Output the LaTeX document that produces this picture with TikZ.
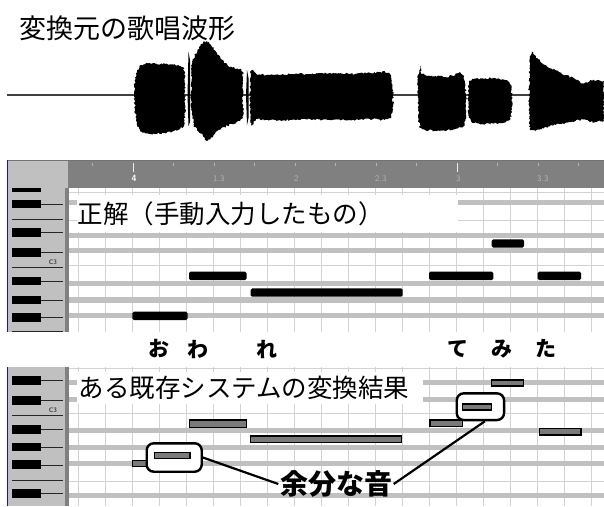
\documentclass[tikz,border=0pt]{standalone}
\usepackage{fontspec}
\newfontfamily\jp{Noto Sans CJK JP}
\usetikzlibrary{decorations.pathmorphing}
\definecolor{bandc}{HTML}{C0C0C0}
\definecolor{gridc}{HTML}{D2D2D2}
\definecolor{rulerc}{HTML}{808080}
\definecolor{kbdc}{HTML}{C0C0C0}
\definecolor{noteg}{HTML}{7A7A7A}
\definecolor{bluel}{HTML}{1010E0}
\definecolor{rlab}{HTML}{B4B4B4}
\begin{document}
\begin{tikzpicture}[x=1pt,y=-1pt,
  bandrow/.style={fill=bandc},
  vgrid/.style={draw=gridc, line width=0.9pt},
  hgrid/.style={draw=gridc, line width=0.9pt},
  blackkey/.style={fill=black},
  keyline/.style={draw=black!85, line width=0.6pt},
  notetop/.style={fill=black, rounded corners=1.5pt},
  notebot/.style={fill=noteg, draw=black, line width=1.1pt},
  callout/.style={draw=black, line width=2.4pt, rounded corners=7pt, fill=white, inner sep=0pt},
  leader/.style={draw=black, line width=2.2pt},
  wave/.style={fill=black, decorate, decoration={random steps, segment length=1.4pt, amplitude=1pt}},
  titletext/.style={font={\jp\fontsize{27pt}{29pt}\selectfont}, inner sep=0pt},
  boxtext/.style={font={\jp\fontsize{25.5pt}{27pt}\selectfont}, inner sep=0pt},
  syll/.style={font={\jp\bfseries\fontsize{21pt}{23pt}\selectfont}, inner sep=0pt},
  extratext/.style={font={\jp\bfseries\fontsize{28pt}{30pt}\selectfont}, inner sep=1.5pt},
  rlabel/.style={font={\sffamily\fontsize{8.5pt}{9pt}\selectfont}, text=rlab, inner sep=0pt},
  rlabelb/.style={font={\sffamily\bfseries\fontsize{9pt}{10pt}\selectfont}, text=white, inner sep=0pt},
  ctext/.style={font={\sffamily\bfseries\fontsize{6.5pt}{7pt}\selectfont}, text=black!75, inner sep=0pt},
  whitebox/.style={fill=white, inner sep=0pt, anchor=north west}
]
\useasboundingbox (0,0) rectangle (604,506);

% ---------- title and waveform ----------
\node[titletext, anchor=west] (title) at (19,28) {変換元の歌唱波形};
\draw[line width=1.1pt, black!75] (7,95) -- (604,95);
\fill[wave] (134,95) -- (135,80) -- (137,70) -- (141,65) -- (150,63) -- (165,64) -- (178,65) -- (183,67) -- (185,75) -- (185,115) -- (184,126) -- (178,130) -- (165,133) -- (150,134) -- (141,132) -- (137,125) -- (135,110) -- cycle;
\fill[black] (187.5,95) -- (188.5,52) -- (190,60) -- (190,122) -- (188.5,126) -- cycle;
\fill[wave] (191,95) -- (192,62) -- (195,55) -- (199,48) -- (203,42) -- (207,41) -- (211,45) -- (216,52) -- (222,60) -- (228,66) -- (234,68) -- (240,69) -- (243,72) -- (243,118) -- (240,121) -- (232,124) -- (224,127) -- (217,131) -- (211,138) -- (207,141) -- (203,136) -- (198,131) -- (194,126) -- (192,115) -- cycle;
\fill[black] (246,95) -- (247,70) -- (248.5,78) -- (248.5,118) -- (247,125) -- cycle;
\fill[wave] (250,95) -- (250,72) -- (253,70) -- (256,74) -- (270,75) -- (290,74) -- (310,74) -- (330,73) -- (350,74) -- (370,73) -- (385,72) -- (390,74) -- (392,80) -- (393,95) -- (393,110) -- (391,118) -- (385,120) -- (370,119) -- (350,120) -- (330,120) -- (310,119) -- (290,120) -- (270,120) -- (256,119) -- (252,126) -- (250,120) -- cycle;
\fill[wave] (418,95) -- (418,75) -- (420,66) -- (422,74) -- (430,76) -- (445,77) -- (455,75) -- (460,72) -- (464,76) -- (466,95) -- (466,115) -- (464,126) -- (455,129) -- (440,131) -- (425,130) -- (420,128) -- (418,115) -- cycle;
\fill[wave] (468,95) -- (469,82) -- (472,79) -- (480,79) -- (495,78) -- (505,80) -- (510,83) -- (512,95) -- (512,112) -- (510,120) -- (500,123) -- (485,124) -- (472,123) -- (469,118) -- cycle;
\fill[wave] (529,95) -- (530,58) -- (533,52) -- (537,58) -- (545,65) -- (555,70) -- (565,75) -- (575,79) -- (580,82) -- (584,84) -- (590,80) -- (604,81) -- (604,121) -- (590,122) -- (584,119) -- (575,121) -- (560,124) -- (545,127) -- (535,131) -- (530,130) -- cycle;

% ---------- top piano roll ----------
\fill[kbdc] (7,160) rectangle (68,188);
\fill[rulerc] (68,160) rectangle (604,188);
\draw[black!55, line width=0.8pt] (7,160.3) -- (604,160.3);
\foreach \x in {92.5,173.5,214,254.5,295,335.5,376,416.5,497.5,538,578.5}
  \draw[rlab, line width=0.7pt] (\x,162.5) -- (\x,166);
\foreach \x in {133,457}
  \draw[white!85!gray, line width=0.8pt] (\x,162.5) -- (\x,172);
\node[rlabelb, anchor=west] (r4) at (131.5,178.5) {4};
\node[rlabel, anchor=west] (r13) at (213,178.5) {1.3};
\node[rlabel, anchor=west] (r2) at (294,178.5) {2};
\node[rlabel, anchor=west] (r23) at (375,178.5) {2.3};
\node[rlabel, anchor=west] (r3) at (456,178.5) {3};
\node[rlabel, anchor=west] (r33) at (537,178.5) {3.3};

\fill[kbdc] (7,188) rectangle (65,332);
\fill[rulerc] (65,188) rectangle (69,332);
\foreach \i in {0,...,19}
  \draw[vgrid] (78.3+27*\i,188) -- (78.3+27*\i,332);
\foreach \y in {192.3,220.7,265}
  \draw[hgrid] (69,\y) -- (604,\y);
\foreach \y in {202.5,235.3,250.3,283.3,300,315.8}
  \fill[bandrow] (69,\y-2.6) rectangle (604,\y+2.6);
\node[whitebox, minimum width=381pt, minimum height=37pt] (boxtop) at (77,195) {};
\node[boxtext, anchor=west] (ttop) at (77.5,214) {正解（手動入力したもの）};

\fill[notetop] (132.3,311.7) rectangle (187.7,320);
\fill[notetop] (189,271.7) rectangle (246.7,280);
\fill[notetop] (250.7,288.3) rectangle (402.7,296.7);
\fill[notetop] (429,271.7) rectangle (493.3,280);
\fill[notetop] (491.7,239.3) rectangle (524,247.7);
\fill[notetop] (537.7,271.7) rectangle (581,280);

\foreach \a/\b in {200/208.3,227.7/236.7,248.3/256.7,276.7/285,296/304.3,313.3/321.7}{
  \fill[blackkey] (11.7,\a) rectangle (41.3,\b);
  \draw[keyline] (41.3,{(\a+\b)/2}) -- (63.3,{(\a+\b)/2});
}
\fill[blackkey] (11.7,188) rectangle (41.3,192);
\foreach \y in {219.3,267.7,331.5}
  \draw[keyline] (11.7,\y) -- (63.3,\y);
\node[ctext] (c3top) at (53,262) {C3};
\draw[bluel, line width=1.6pt] (7.6,160) -- (7.6,332);

% ---------- syllables ----------
\node[syll] (s1) at (159,349) {お};
\node[syll] (s2) at (198,349) {わ};
\node[syll] (s3) at (266.5,349) {れ};
\node[syll] (s4) at (457.5,349) {て};
\node[syll] (s5) at (501.5,349) {み};
\node[syll] (s6) at (545.8,349) {た};

% ---------- bottom piano roll ----------
\fill[kbdc] (7,367) rectangle (65,506);
\fill[rulerc] (65,367) rectangle (69,506);
\foreach \i in {0,...,19}
  \draw[vgrid] (78.3+27*\i,367) -- (78.3+27*\i,506);
\foreach \y in {368,413.3,481}
  \draw[hgrid] (69,\y) -- (604,\y);
\foreach \y in {382.5,399.2,430.8,447.5,463.5,495.2}
  \fill[bandrow] (69,\y-2.6) rectangle (604,\y+2.6);
\node[whitebox, minimum width=346pt, minimum height=32pt] (boxbot) at (77,372) {};
\node[boxtext, anchor=west] (tbot) at (78.5,387.5) {ある既存システムの変換結果};

\filldraw[notebot] (189.3,420) rectangle (246.7,427.3);
\filldraw[notebot] (250.7,436) rectangle (401.7,442.7);
\filldraw[notebot] (132.3,460.7) rectangle (160,466.7);
\filldraw[notebot] (430,420) rectangle (462.7,426.7);
\filldraw[notebot] (491.7,380) rectangle (523.3,386);
\filldraw[notebot] (539.3,428.3) rectangle (581,435);

\node[callout, minimum width=55pt, minimum height=28.4pt] (calL) at (174.2,457.5) {};
\node[callout, minimum width=47.3pt, minimum height=26.7pt] (calR) at (480.4,406.7) {};
\filldraw[notebot] (154.3,452.7) rectangle (190,458.3);
\filldraw[notebot] (462.7,404) rectangle (491.7,410);

\foreach \a/\b in {376/385.3,396/404.7,424.7/433.7,442.7/451.3,460.3/469.3,488.7/498}{
  \fill[blackkey] (11.7,\a) rectangle (41.3,\b);
  \draw[keyline] (41.3,{(\a+\b)/2}) -- (63.3,{(\a+\b)/2});
}
\foreach \y in {415.3,480.3}
  \draw[keyline] (11.7,\y) -- (63.3,\y);
\node[ctext] (c3bot) at (53,410.5) {C3};
\draw[bluel, line width=1.6pt] (7.6,367) -- (7.6,506);

% ---------- annotation ----------
\node[extratext] (extra) at (336,484) {余分な音};
\draw[leader] (calL.east) -- (extra.west);
\draw[leader] ([xshift=4.5pt]calR.south) -- (extra.east);
\end{tikzpicture}
\end{document}
